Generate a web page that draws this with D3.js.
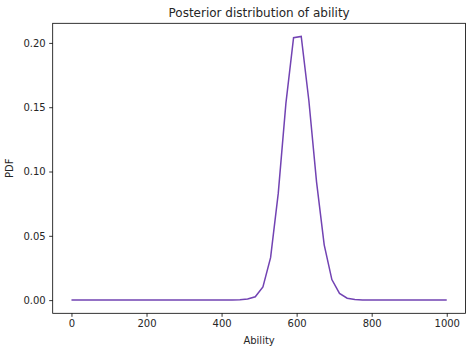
<!DOCTYPE html>
<html>
<head>
<meta charset="utf-8">
<script src="https://cdn.jsdelivr.net/npm/d3@7"></script>
<style>
  body { margin: 0; background: #fff; }
  text { font-family: "DejaVu Sans", sans-serif; fill: #262626; }
</style>
</head>
<body>
<div id="chart"></div>
<script>
// ability grid: 50 points from 0 to 1000
const ability = d3.range(50).map(i => i * 1000 / 49);
// posterior pdf
const pdf = [
  0, 0, 0, 0, 0, 0, 0, 0, 0, 0,
  0, 0, 0, 0, 0, 0, 0, 0, 0, 0,
  0, 0.00003, 0.0002, 0.0009, 0.0026, 0.0103, 0.033, 0.083, 0.153, 0.204,
  0.205, 0.155, 0.092, 0.043, 0.016, 0.0052, 0.0015, 0.0004, 0.0001, 0.00002,
  0, 0, 0, 0, 0, 0, 0, 0, 0, 0
];
const xTicks = [0, 200, 400, 600, 800, 1000];
const yTicks = [0, 0.05, 0.10, 0.15, 0.20];

const margin = {top: 23.3, right: 6.5, bottom: 38.7, left: 52.7},
  width = 472 - margin.left - margin.right,
  height = 352 - margin.top - margin.bottom;

const svg = d3.select("#chart")
  .append("svg")
  .attr("width", 472)
  .attr("height", 352)
  .append("g")
  .attr("transform", `translate(${margin.left}, ${margin.top})`);

// matplotlib style 5% margins
const xPad = 1000 * 0.05, yMax = d3.max(pdf), yPad = yMax * 0.05;
const x = d3.scaleLinear().domain([-xPad, 1000 + xPad]).range([0, width]);
const y = d3.scaleLinear().domain([-yPad, yMax + yPad]).range([height, 0]);

const xAxis = svg.append("g")
  .attr("transform", `translate(0, ${height})`)
  .call(d3.axisBottom(x).tickValues(xTicks).tickFormat(d3.format("d")).tickSize(3.5).tickPadding(3.5));
const yAxis = svg.append("g")
  .call(d3.axisLeft(y).tickValues(yTicks).tickFormat(d3.format(".2f")).tickSize(3.5).tickPadding(3.5));

[xAxis, yAxis].forEach(a => {
  a.select(".domain").remove();
  a.selectAll("line").attr("stroke", "#000").attr("stroke-width", 0.8);
  a.selectAll("text").style("font-size", "10px").style("font-family", "DejaVu Sans").attr("fill", "#262626");
});

// frame
svg.append("rect")
  .attr("width", width)
  .attr("height", height)
  .attr("fill", "none")
  .attr("stroke", "#000")
  .attr("stroke-width", 0.8);

const line = d3.line()
  .x((d, i) => x(ability[i]))
  .y(d => y(d));

svg.append("path")
  .datum(pdf)
  .attr("fill", "none")
  .attr("stroke", "#7243b3")
  .attr("stroke-width", 1.5)
  .attr("d", line);

svg.append("text")
  .attr("x", width / 2)
  .attr("y", -6)
  .attr("text-anchor", "middle")
  .style("font-size", "12px")
  .text("Posterior distribution of ability");

svg.append("text")
  .attr("x", width / 2)
  .attr("y", height + 31)
  .attr("text-anchor", "middle")
  .style("font-size", "10px")
  .text("Ability");

svg.append("text")
  .attr("transform", `translate(${-40}, ${height / 2}) rotate(-90)`)
  .attr("text-anchor", "middle")
  .style("font-size", "10px")
  .text("PDF");
</script>
</body>
</html>
